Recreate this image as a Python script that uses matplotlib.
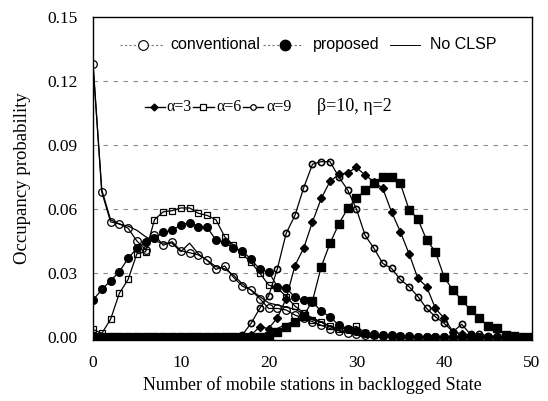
import matplotlib
matplotlib.use('Agg')
import matplotlib.pyplot as plt
from matplotlib.ticker import FormatStrFormatter

# ---------------- data ----------------
states = list(range(51))

conv_alpha9 = [0.128, 0.068, 0.054, 0.053, 0.051, 0.045, 0.041, 0.048, 0.043, 0.0447,
               0.0405, 0.0395, 0.0385, 0.036, 0.0317, 0.0333, 0.028, 0.0239, 0.022, 0.018,
               0.0134, 0.0134, 0.0127, 0.0103, 0.0088, 0.0072, 0.0055, 0.004, 0.003, 0.002,
               0.0015, 0.001, 0.0008, 0.0005, 0.0003] + [0.0] * 16

conv_alpha6 = [0.0036, 0.0017, 0.0083, 0.0205, 0.027, 0.039, 0.040, 0.055, 0.0587, 0.0592,
               0.0605, 0.0605, 0.058, 0.057, 0.055, 0.047, 0.043, 0.039, 0.035, 0.030,
               0.0244, 0.023, 0.019, 0.0145, 0.0114, 0.008, 0.007, 0.005, 0.004, 0.004,
               0.005, 0.002, 0.001, 0.0008, 0.0005, 0.0003] + [0.0] * 15

prop_alpha9 = [0.0173, 0.0223, 0.0264, 0.0306, 0.0369, 0.0416, 0.0445, 0.0463, 0.049, 0.050,
               0.0525, 0.0536, 0.0517, 0.0514, 0.0455, 0.0444, 0.0416, 0.0405, 0.0364, 0.0317,
               0.0306, 0.0236, 0.0231, 0.0186, 0.0173, 0.0165, 0.012, 0.0095, 0.0055, 0.004,
               0.003, 0.002, 0.0015, 0.001, 0.0008, 0.0005, 0.0003] + [0.0] * 14

conv_alpha3 = [0.0] * 17 + [0.001, 0.0064, 0.0135, 0.0192, 0.032, 0.0486, 0.057, 0.070, 0.081,
               0.0822, 0.0822, 0.075, 0.069, 0.060, 0.0476, 0.0416, 0.0345, 0.0322, 0.027,
               0.0236, 0.019, 0.0134, 0.0095, 0.0064, 0.0025, 0.006, 0.0012, 0.0015, 0.0005] + [0.0] * 5

prop_alpha3 = [0.0] * 18 + [0.001, 0.0048, 0.004, 0.009, 0.018, 0.0335, 0.0417, 0.054, 0.065,
               0.073, 0.0762, 0.077, 0.0795, 0.0759, 0.0728, 0.0697, 0.0587, 0.0494, 0.039,
               0.0275, 0.0236, 0.0134, 0.0088, 0.0025, 0.0015, 0.0008] + [0.0] * 7

prop_alpha6 = [0.0] * 20 + [0.0005, 0.0022, 0.0048, 0.007, 0.010, 0.017, 0.033, 0.044, 0.053,
               0.0603, 0.065, 0.0689, 0.072, 0.0749, 0.0752, 0.072, 0.0597, 0.0553, 0.0455,
               0.040, 0.028, 0.022, 0.0173, 0.0127, 0.0088, 0.0052, 0.0044, 0.001, 0.0005,
               0.0, 0.0]

noclsp_a = [0.128, 0.069, 0.055, 0.053, 0.052, 0.050, 0.047, 0.045, 0.044, 0.044,
            0.040, 0.044, 0.039, 0.036, 0.033, 0.032, 0.029, 0.025, 0.022, 0.019,
            0.016, 0.015, 0.014, 0.013, 0.011, 0.009, 0.007, 0.005, 0.003, 0.002,
            0.001] + [0.0] * 20

noclsp_b = [0.0] * 20 + [0.002, 0.004, 0.006, 0.0075, 0.0085, 0.0085, 0.007, 0.005, 0.003,
            0.002, 0.001] + [0.0] * 20

xticks = [0, 10, 20, 30, 40, 50]
yticks = [0.00, 0.03, 0.06, 0.09, 0.12, 0.15]

legend_methods = ["conventional", "proposed", "No CLSP"]
legend_alphas = ["\u03b1=3", "\u03b1=6", "\u03b1=9"]
param_text = "\u03b2=10, \u03b7=2"

# ---------------- figure ----------------
SERIF = ['Liberation Serif', 'DejaVu Serif']
SANS = ['Liberation Sans', 'DejaVu Sans']

fig = plt.figure(figsize=(5.48, 4.01), dpi=100)
ax = fig.add_axes([0.1697, 0.1531, 0.8011, 0.8045])
ax.set_xlim(0, 50)
ax.set_ylim(-0.0012, 0.15)

for gy in yticks[1:-1]:
    ax.axhline(gy, color='#8a8a8a', lw=0.8, ls=(0, (4, 5)), zorder=0)

lw = 0.9
ax.plot(states, noclsp_a, color='k', lw=lw, zorder=2)
ax.plot(states, noclsp_b, color='k', lw=lw, zorder=2)
ax.plot(states, conv_alpha9, color='k', lw=lw, marker='o', ms=5.5, mfc='none', mec='k', mew=0.9, zorder=3)
ax.plot(states, conv_alpha6, color='k', lw=lw, marker='s', ms=5, mfc='none', mec='k', mew=0.9, zorder=3)
ax.plot(states, prop_alpha9, color='k', lw=lw, marker='o', ms=5.5, mfc='k', mec='k', zorder=3)
ax.plot(states, conv_alpha3, color='k', lw=lw, marker='o', ms=4.5, mfc='none', mec='k', mew=1.2, zorder=3)
ax.plot(states, prop_alpha3, color='k', lw=lw, marker='D', ms=4.5, mfc='k', mec='k', zorder=3)
ax.plot(states, prop_alpha6, color='k', lw=lw, marker='s', ms=5.5, mfc='k', mec='k', zorder=3)

ax.set_xticks(xticks)
ax.set_yticks(yticks)
ax.yaxis.set_major_formatter(FormatStrFormatter('%.2f'))
ax.tick_params(length=0, pad=11, labelsize=12.5)
for lab in ax.get_xticklabels() + ax.get_yticklabels():
    lab.set_family(SERIF)
for s in ax.spines.values():
    s.set_linewidth(1.0)

ax.set_xlabel("Number of mobile stations in backlogged State", fontsize=13, family=SERIF, labelpad=4)
ax.set_ylabel("Occupancy probability", fontsize=13.5, family=SERIF, labelpad=12)

# ---------------- legend (drawn inside axes) ----------------
r1 = 0.137
ax.plot([3.1, 8.0], [r1, r1], color='#777777', lw=0.8, ls=(0, (2, 2)), zorder=4)
ax.plot([5.7], [r1], marker='o', ms=7, mfc='white', mec='k', mew=0.8, zorder=5)
ax.text(8.8, r1, legend_methods[0], fontsize=11.5, family=SANS, va='center', ha='left')
ax.plot([19.4, 23.9], [r1, r1], color='#777777', lw=0.8, ls=(0, (2, 2)), zorder=4)
ax.plot([21.9], [r1], marker='o', ms=7.5, mfc='k', mec='k', zorder=5)
ax.text(25.1, r1, legend_methods[1], fontsize=11.5, family=SANS, va='center', ha='left')
ax.plot([33.8, 37.2], [r1, r1], color='k', lw=0.7, zorder=4)
ax.text(38.4, r1, legend_methods[2], fontsize=11.5, family=SANS, va='center', ha='left')

r2 = 0.108
afs = 11.5
ax.plot([5.9, 8.2], [r2, r2], color='k', lw=1.0, zorder=4)
ax.plot([7.0], [r2], marker='D', ms=3.5, mfc='k', mec='k', zorder=5)
ax.text(8.4, r2, legend_alphas[0], fontsize=afs, family=SERIF, va='center', ha='left')
ax.plot([11.4, 13.8], [r2, r2], color='k', lw=1.0, zorder=4)
ax.plot([12.5], [r2], marker='s', ms=4, mfc='white', mec='k', mew=0.9, zorder=5)
ax.text(14.1, r2, legend_alphas[1], fontsize=afs, family=SERIF, va='center', ha='left')
ax.plot([17.1, 19.4], [r2, r2], color='k', lw=1.0, zorder=4)
ax.plot([18.2], [r2], marker='o', ms=4, mfc='white', mec='k', mew=0.9, zorder=5)
ax.text(19.7, r2, legend_alphas[2], fontsize=afs, family=SERIF, va='center', ha='left')
ax.text(25.5, r2, param_text, fontsize=13, family=SERIF, va='center', ha='left')

fig.savefig('out.png', dpi=100)
